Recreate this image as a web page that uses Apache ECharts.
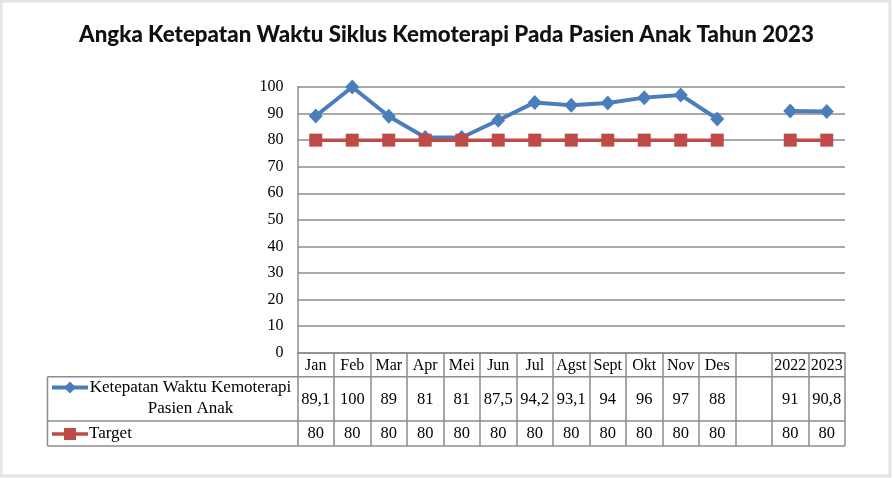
<!DOCTYPE html>
<html>
<head>
<meta charset="utf-8">
<script src="https://cdn.jsdelivr.net/npm/echarts@6/dist/echarts.min.js"></script>
<style>
html,body{margin:0;padding:0;background:#fff;}
#chart{width:893px;height:478px;}
</style>
</head>
<body>
<div id="chart"></div>
<script>
const titleText = 'Angka Ketepatan Waktu Siklus Kemoterapi Pada Pasien Anak Tahun 2023';
const categories = ['Jan','Feb','Mar','Apr','Mei','Jun','Jul','Agst','Sept','Okt','Nov','Des','','2022','2023'];
const ketepatan = [89.1,100,89,81,81,87.5,94.2,93.1,94,96,97,88,null,91,90.8];
const target = [80,80,80,80,80,80,80,80,80,80,80,80,null,80,80];
const seriesNames = ['Ketepatan Waktu Kemoterapi\nPasien Anak','Target'];
const yMin = 0, yMax = 100, yInterval = 10;

const BLUE = '#4a7ebb', RED = '#be4b48', GRID = '#8c8c8c';
const SERIF = '"Liberation Serif","Times New Roman",serif';

const chart = echarts.init(document.getElementById('chart'), null, {renderer:'canvas'});

const gLeft = 297.5, gRight = 845, gTop = 87, gBottom = 352.7;
const row1B = 376.7, row2B = 421, row3B = 446, tLeft = 47.5;

chart.setOption({
  animation:false,
  backgroundColor:'#fff',
  title:{
    text:titleText, left:'center', top:19,
    textStyle:{fontFamily:'Lato', fontWeight:900, fontSize:22.3, color:'#111'}
  },
  grid:{left:gLeft, right:893-gRight, top:gTop, bottom:478-gBottom},
  xAxis:{
    type:'category', data:categories, boundaryGap:true,
    axisLine:{show:true, lineStyle:{color:GRID, width:1.5}},
    axisTick:{show:true, interval:0, inside:false, length:row3B-gBottom, lineStyle:{color:GRID, width:1.5}},
    axisLabel:{interval:0, margin:5, fontFamily:SERIF, fontSize:16, color:'#000'}
  },
  yAxis:{
    type:'value', min:yMin, max:yMax, interval:yInterval,
    axisLine:{show:true, lineStyle:{color:GRID, width:1.5}},
    axisTick:{show:false},
    splitLine:{show:true, lineStyle:{color:GRID, width:1.5}},
    axisLabel:{margin:14, fontFamily:SERIF, fontSize:16, color:'#000'}
  },
  series:[
    {name:seriesNames[0], type:'line', data:ketepatan, connectNulls:false,
     symbol:'diamond', symbolSize:[14,15], showSymbol:true,
     lineStyle:{color:BLUE, width:4}, itemStyle:{color:BLUE}, z:2},
    {name:seriesNames[1], type:'line', data:target, connectNulls:false,
     symbol:'rect', symbolSize:13, showSymbol:true,
     lineStyle:{color:RED, width:3.5}, itemStyle:{color:RED}, z:3}
  ]
});

function fmt(v){ return v==null ? '' : String(v).replace('.', ','); }

const lineStyle = {stroke:GRID, lineWidth:1.5};
const graphics = [];
// outer frame
graphics.push({type:'rect', shape:{x:1,y:1,width:889,height:475}, style:{fill:null, stroke:'#e4e4e4', lineWidth:3}, silent:true});
// table horizontal lines
[row1B,row2B,row3B].forEach(y=>{
  graphics.push({type:'line', shape:{x1:tLeft,y1:y,x2:gRight,y2:y}, style:lineStyle, silent:true});
});
graphics.push({type:'line', shape:{x1:tLeft,y1:row1B,x2:tLeft,y2:row3B}, style:lineStyle, silent:true});

const r2y = (row1B+row2B)/2 + 0.5, r3y = (row2B+row3B)/2 + 0.5;
categories.forEach((c,i)=>{
  const x = chart.convertToPixel({xAxisIndex:0}, i);
  graphics.push({type:'text', x:x, y:r2y, style:{text:fmt(ketepatan[i]), fontFamily:SERIF, fontSize:16.5, fill:'#000', align:'center', verticalAlign:'middle'}, silent:true});
  graphics.push({type:'text', x:x, y:r3y, style:{text:fmt(target[i]), fontFamily:SERIF, fontSize:16.5, fill:'#000', align:'center', verticalAlign:'middle'}, silent:true});
});

// legend keys
const k1y = 387.5, k2y = r3y;
graphics.push({type:'line', shape:{x1:52,y1:k1y,x2:88,y2:k1y}, style:{stroke:BLUE, lineWidth:4}, silent:true});
graphics.push({type:'polygon', shape:{points:[[70,k1y-6],[76,k1y],[70,k1y+6],[64,k1y]]}, style:{fill:BLUE}, silent:true});
graphics.push({type:'line', shape:{x1:52,y1:k2y,x2:88,y2:k2y}, style:{stroke:RED, lineWidth:3.5}, silent:true});
graphics.push({type:'rect', shape:{x:64,y:k2y-6,width:12,height:12}, style:{fill:RED}, silent:true});

const nameLines = seriesNames[0].split('\n');
graphics.push({type:'text', x:190.5, y:k1y, style:{text:nameLines[0], fontFamily:SERIF, fontSize:17, fill:'#000', align:'center', verticalAlign:'middle'}, silent:true});
graphics.push({type:'text', x:190.5, y:409, style:{text:nameLines[1], fontFamily:SERIF, fontSize:17, fill:'#000', align:'center', verticalAlign:'middle'}, silent:true});
graphics.push({type:'text', x:89, y:k2y, style:{text:seriesNames[1], fontFamily:SERIF, fontSize:17, fill:'#000', align:'left', verticalAlign:'middle'}, silent:true});

chart.setOption({graphic:graphics});
</script>
</body>
</html>
